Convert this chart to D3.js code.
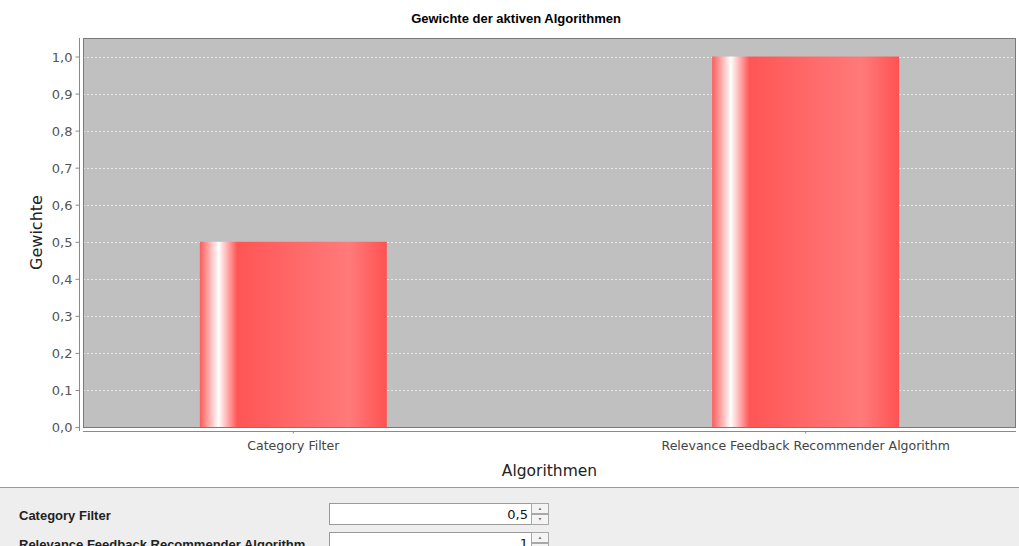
<!DOCTYPE html>
<html><head><meta charset="utf-8">
<script src="https://cdn.jsdelivr.net/npm/d3@7"></script>
<style>
html,body{margin:0;padding:0;background:#fff;overflow:hidden}
svg{display:block}
</style></head>
<body>
<svg id="c" width="1019" height="546"></svg>
<script>
const categories = ["Category Filter", "Relevance Feedback Recommender Algorithm"];
const weights = [0.5, 1.0];
const yTicks = [0,0.1,0.2,0.3,0.4,0.5,0.6,0.7,0.8,0.9,1.0];
const formRows = ["Category Filter", "Relevance Feedback Recommender Algorithm"];
const formValues = ["0,5", "1"];

const svg = d3.select("#c");
const W = 1019, H = 546;
const plot = {l:83, r:1016, t:38, b:427};
const font = "Tahoma, 'DejaVu Sans', Verdana, sans-serif";
const boldFont = "'Liberation Sans', Arial, sans-serif";

const x = d3.scaleBand().domain(categories).range([plot.l, plot.r]).paddingInner(0.635).paddingOuter(0.228);
const y = d3.scaleLinear().domain([0, 1.05]).range([plot.b, plot.t]);

// gradient
const defs = svg.append("defs");
const g = defs.append("linearGradient").attr("id","barGrad").attr("x1","0").attr("x2","1").attr("y1","0").attr("y2","0");
[[0,"#ff5a5a"],[0.10,"#ffffff"],[0.20,"#ff5555"],[0.55,"#ff6b6b"],[0.80,"#ff7a7a"],[1,"#ff5252"]]
  .forEach(([o,c])=>g.append("stop").attr("offset",o).attr("stop-color",c));

// title
svg.append("text").attr("x",516).attr("y",23).attr("text-anchor","middle")
  .style("font-family",boldFont).style("font-weight","bold").style("font-size","13px").attr("fill","#000")
  .text("Gewichte der aktiven Algorithmen");

// plot background
svg.append("rect").attr("x",plot.l).attr("y",plot.t).attr("width",plot.r-plot.l).attr("height",plot.b-plot.t)
  .attr("fill","#c0c0c0");

// gridlines
svg.append("g").selectAll("line").data(yTicks).join("line")
  .attr("x1",plot.l).attr("x2",plot.r).attr("y1",d=>Math.round(y(d))+0.5).attr("y2",d=>Math.round(y(d))+0.5)
  .attr("stroke","#e8e8e8").attr("stroke-width",1).attr("stroke-dasharray","2,2");

// bars
svg.append("g").selectAll("rect").data(categories).join("rect")
  .attr("x",d=>x(d)).attr("width",x.bandwidth())
  .attr("y",(d,i)=>y(weights[i])).attr("height",(d,i)=>y(0)-y(weights[i]))
  .attr("fill","url(#barGrad)");

// plot border
svg.append("rect").attr("x",plot.l+0.5).attr("y",plot.t+0.5).attr("width",plot.r-plot.l-1).attr("height",plot.b-plot.t)
  .attr("fill","none").attr("stroke","#7a7a7a");

// y axis
const yAxis = d3.axisLeft(y).tickValues(yTicks).tickFormat(d=>d3.format(".1f")(d).replace(".",",")).tickSize(4).tickSizeOuter(0);
const ya = svg.append("g").attr("transform","translate(79.5,0)").call(yAxis);
ya.select(".domain").attr("stroke","#8a8a8a").attr("d",`M0,${plot.t}V${plot.b+4}`);
ya.selectAll(".tick line").attr("stroke","#8a8a8a");
ya.selectAll(".tick text").style("font-family",font).style("font-size","13px").attr("fill","#555").attr("x",-7).attr("dy","0.35em");

// x axis
const xAxis = d3.axisBottom(x).tickSize(2).tickSizeOuter(0);
const xa = svg.append("g").attr("transform","translate(0,431.5)").call(xAxis);
xa.select(".domain").attr("stroke","#8a8a8a").attr("d",`M${plot.l},0H${plot.r}`);
xa.selectAll(".tick line").attr("stroke","#8a8a8a");
xa.selectAll(".tick text").style("font-family",font).style("font-size","12.5px").attr("fill","#444").attr("y",10).attr("dy","0.71em");

// axis labels
svg.append("text").attr("transform",`translate(42,${(plot.t+plot.b)/2}) rotate(-90)`).attr("text-anchor","middle")
  .style("font-family",font).style("font-size","16px").attr("fill","#222").text("Gewichte");
svg.append("text").attr("x",(plot.l+plot.r)/2).attr("y",476).attr("text-anchor","middle")
  .style("font-family",font).style("font-size","15.5px").attr("fill","#222").text("Algorithmen");

// bottom panel
svg.append("rect").attr("x",0).attr("y",487).attr("width",W).attr("height",H-487).attr("fill","#eeeeee");
svg.append("line").attr("x1",0).attr("x2",W).attr("y1",487.5).attr("y2",487.5).attr("stroke","#8e9ea4");

const rowY = [503, 532];
formRows.forEach((lab,i)=>{
  const ry = rowY[i];
  svg.append("text").attr("x",19).attr("y",ry+17).style("font-family",boldFont).style("font-weight","bold")
    .style("font-size","13px").attr("fill","#222").text(lab);
  svg.append("rect").attr("x",329.5).attr("y",ry+0.5).attr("width",202).attr("height",21).attr("fill","#fff").attr("stroke","#9a9a9a");
  svg.append("text").attr("x",528).attr("y",ry+16).attr("text-anchor","end").style("font-family",font)
    .style("font-size","13px").attr("fill","#111").text(formValues[i]);
  // spinner
  svg.append("rect").attr("x",531.5).attr("y",ry+0.5).attr("width",17).attr("height",10).attr("fill","#f4f4f4").attr("stroke","#a8a8a8");
  svg.append("rect").attr("x",531.5).attr("y",ry+11.5).attr("width",17).attr("height",10).attr("fill","#f4f4f4").attr("stroke","#a8a8a8");
  svg.append("path").attr("d",`M538.5,${ry+7} L540,${ry+4.5} L541.5,${ry+7}Z`).attr("fill","#777");
  svg.append("path").attr("d",`M538.5,${ry+15} L540,${ry+17.5} L541.5,${ry+15}Z`).attr("fill","#777");
});
</script>
</body></html>
